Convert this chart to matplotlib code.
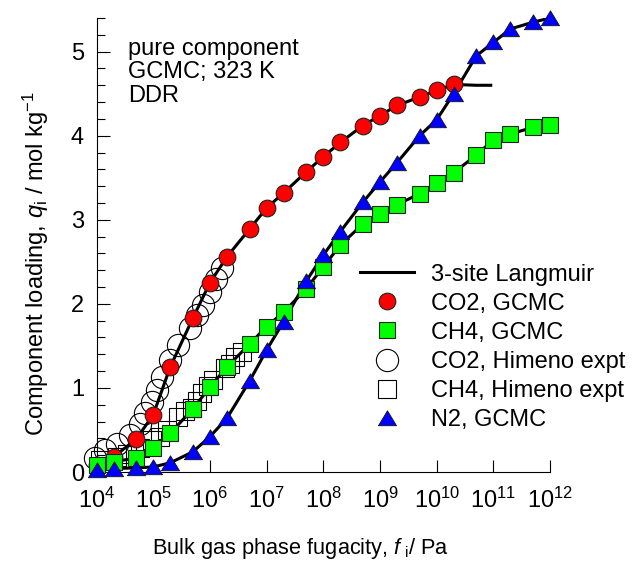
import numpy as np
import matplotlib
matplotlib.use("Agg")
import matplotlib.pyplot as plt

plt.rcParams['font.family'] = ['Liberation Sans', 'DejaVu Sans']
plt.rcParams['mathtext.fontset'] = 'custom'
plt.rcParams['mathtext.rm'] = 'Liberation Sans'
plt.rcParams['mathtext.it'] = 'Liberation Sans:italic'

# GCMC fugacities, Pa (1-2-5 steps)
f_gcmc = [1e4, 2e4, 5e4, 1e5, 2e5, 5e5, 1e6, 2e6, 5e6, 1e7, 2e7, 5e7, 1e8,
          2e8, 5e8, 1e9, 2e9, 5e9, 1e10, 2e10, 5e10, 1e11, 2e11, 5e11, 1e12]

# loadings, mol/kg
q_co2 = [0.08, 0.18, 0.39, 0.68, 1.25, 1.83, 2.25, 2.56, 2.89, 3.14, 3.32,
         3.57, 3.75, 3.92, 4.12, 4.24, 4.36, 4.46, 4.54, 4.61]
q_ch4 = [0.08, 0.12, 0.17, 0.29, 0.46, 0.75, 1.01, 1.25, 1.52, 1.73, 1.90,
         2.18, 2.44, 2.70, 2.95, 3.07, 3.18, 3.31, 3.44, 3.56, 3.77, 3.95,
         4.02, 4.10, 4.13]
q_n2 = [0.02, 0.04, 0.05, 0.06, 0.11, 0.24, 0.42, 0.64, 1.08, 1.45, 1.79,
        2.27, 2.58, 2.86, 3.21, 3.45, 3.68, 4.00, 4.19, 4.50, 4.95, 5.11,
        5.27, 5.35, 5.40]

# 3-site Langmuir fits
f_fit_co2 = f_gcmc[:20] + [5e10, 9e10]
q_fit_co2 = [0.05] + q_co2[1:] + [4.60, 4.60]
f_fit = f_gcmc
q_fit_ch4 = [0.05] + q_ch4[1:]
q_fit_n2 = q_n2

# Himeno experimental data
f_co2_exp = [9.3e3, 1.4e4, 2.3e4, 3.9e4, 5.9e4, 7.2e4, 9.5e4, 1.17e5, 1.45e5,
             2.0e5, 2.75e5, 4.5e5, 5.9e5, 7.6e5, 1.0e6, 1.29e6, 1.62e6]
q_co2_exp = [0.17, 0.26, 0.33, 0.44, 0.57, 0.70, 0.83, 0.98, 1.13, 1.33, 1.51,
             1.71, 1.87, 1.99, 2.14, 2.29, 2.43]
f_ch4_exp = [1.15e4, 2.3e4, 3.5e4, 5.9e4, 9.5e4, 1.32e5, 1.74e5, 2.75e5,
             3.6e5, 4.8e5, 5.9e5, 7.2e5, 9.3e5, 1.15e6, 1.86e6, 2.3e6, 2.8e6,
             3.7e6]
q_ch4_exp = [0.14, 0.18, 0.22, 0.29, 0.38, 0.42, 0.50, 0.66, 0.72, 0.76, 0.84,
             0.94, 1.02, 1.10, 1.24, 1.28, 1.37, 1.43]

fig = plt.figure(figsize=(6.32, 5.63), dpi=100)
ax = fig.add_axes([0.1527, 0.1616, 0.7176, 0.8064])

# triangle wider than tall
tri = [(-1, -0.8), (1, -0.8), (0, 0.85), (-1, -0.8)]

ax.plot(f_co2_exp, q_co2_exp, 'o', ms=16, mfc='none', mec='black', mew=0.8,
        clip_on=False, zorder=2, label='CO2, Himeno expt')
ax.plot(f_ch4_exp, q_ch4_exp, 's', ms=13, mfc='none', mec='black', mew=0.8,
        clip_on=False, zorder=2, label='CH4, Himeno expt')

ax.plot(f_fit_co2, q_fit_co2, '-', color='black', lw=2.2, zorder=3,
        label='3-site Langmuir')
ax.plot(f_fit, q_fit_ch4, '-', color='black', lw=2.2, zorder=3)
ax.plot(f_fit, q_fit_n2, '-', color='black', lw=2.2, zorder=3)

ax.plot(f_gcmc[:20], q_co2, 'o', ms=12, mfc='#ff0000', mec='#222222', mew=0.8,
        clip_on=False, zorder=4, label='CO2, GCMC')
ax.plot(f_gcmc, q_ch4, 's', ms=11, mfc='#00ff00', mec='#222222', mew=0.8,
        clip_on=False, zorder=5, label='CH4, GCMC')
ax.plot(f_gcmc, q_n2, ls='none', marker=tri, ms=13, mfc='#0000ff',
        mec='#111111', mew=0.6, clip_on=False, zorder=6, label='N2, GCMC')

ax.set_xscale('log')
ax.set_xlim(1e4, 1e12)
ax.set_ylim(0, 5.4)
ax.set_xticks([10.0 ** k for k in range(4, 13)])
ax.set_xticklabels(['$10^{%d}$' % k for k in range(4, 13)])
ax.xaxis.set_minor_locator(matplotlib.ticker.NullLocator())
ax.set_yticks([0, 1, 2, 3, 4, 5])
ax.set_yticks(np.arange(0, 5.41, 0.2), minor=True)

for s in ['top', 'right']:
    ax.spines[s].set_visible(False)
ax.spines['left'].set_linewidth(0.8)
ax.spines['bottom'].set_linewidth(0.8)
ax.tick_params(axis='both', which='major', direction='in', length=9,
               width=0.8, labelsize=17)
ax.tick_params(axis='y', which='minor', direction='in', length=6, width=0.8)
ax.tick_params(axis='y', which='major', pad=9)
ax.tick_params(axis='x', which='major', pad=11)

ax.set_xlabel('Bulk gas phase fugacity, $f_{\\rm\\ i}$/ Pa', fontsize=15.7)
ax.set_ylabel('Component loading, $q_{\\rm i}$ / mol kg$^{-1}$', fontsize=17)
ax.xaxis.set_label_coords(0.449, -0.14)
ax.yaxis.set_label_coords(-0.10, 0.46)

ax.text(0.069, 0.957, 'pure component\nGCMC; 323 K\nDDR', transform=ax.transAxes,
        fontsize=17, va='top', ha='left', linespacing=1.1)

handles, labels = ax.get_legend_handles_labels()
order = ['3-site Langmuir', 'CO2, GCMC', 'CH4, GCMC', 'CO2, Himeno expt',
         'CH4, Himeno expt', 'N2, GCMC']
hmap = dict(zip(labels, handles))
ax.legend([hmap[k] for k in order], order, loc='upper left',
          bbox_to_anchor=(0.56, 0.48), frameon=False, fontsize=17,
          handlelength=2.3, handletextpad=0.7, labelspacing=0.3,
          borderaxespad=0)

fig.savefig('out.png', dpi=100)
